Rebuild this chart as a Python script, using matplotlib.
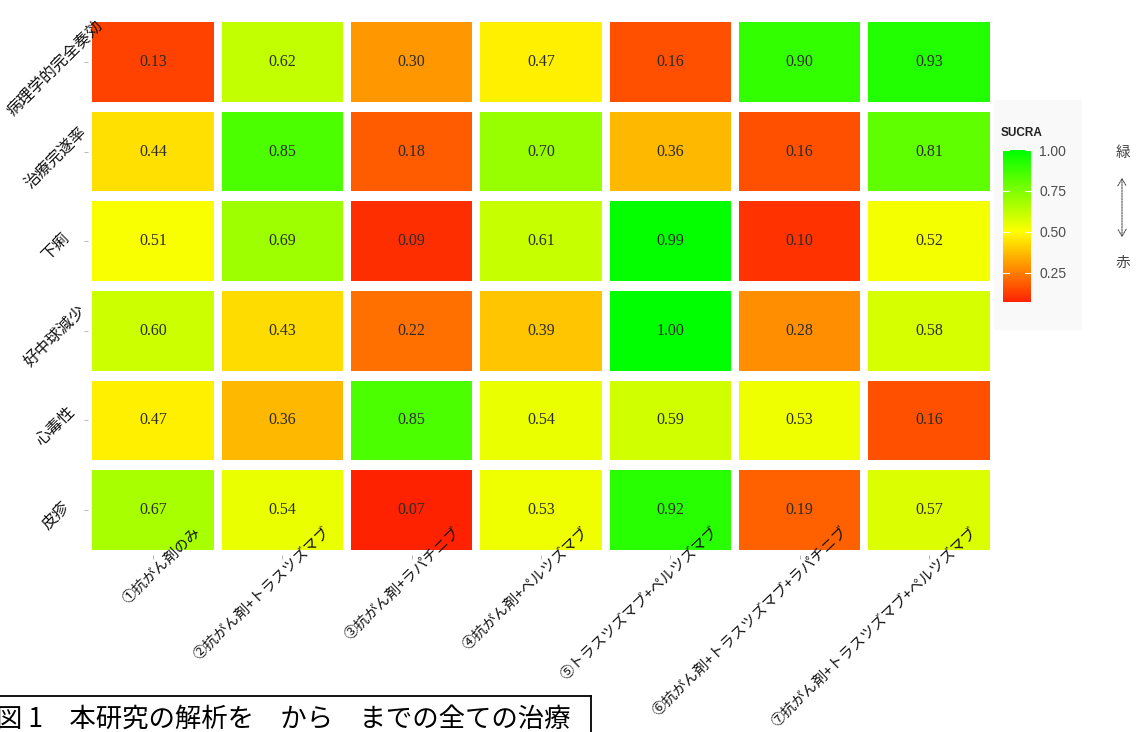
import matplotlib
matplotlib.use("Agg")
import matplotlib.pyplot as plt
import matplotlib.transforms as mtransforms
from matplotlib.colors import LinearSegmentedColormap
from matplotlib.patches import Rectangle, FancyArrowPatch
from matplotlib.lines import Line2D
import numpy as np

JP = ['Noto Sans CJK JP', 'DejaVu Sans']

treatments = ['①抗がん剤のみ', '②抗がん剤+トラスツズマブ', '③抗がん剤+ラパチニブ',
              '④抗がん剤+ペルツズマブ', '⑤トラスツズマブ+ペルツズマブ',
              '⑥抗がん剤+トラスツズマブ+ラパチニブ', '⑦抗がん剤+トラスツズマブ+ペルツズマブ']
outcomes = ['病理学的完全奏効', '治療完遂率', '下痢', '好中球減少', '心毒性', '皮疹']

sucra_pcr = [0.13, 0.62, 0.30, 0.47, 0.16, 0.90, 0.93]
sucra_completion = [0.44, 0.85, 0.18, 0.70, 0.36, 0.16, 0.81]
sucra_diarrhea = [0.51, 0.69, 0.09, 0.61, 0.99, 0.10, 0.52]
sucra_neutropenia = [0.60, 0.43, 0.22, 0.39, 1.00, 0.28, 0.58]
sucra_cardiac = [0.47, 0.36, 0.85, 0.54, 0.59, 0.53, 0.16]
sucra_rash = [0.67, 0.54, 0.07, 0.53, 0.92, 0.19, 0.57]

sucra = np.array([sucra_pcr, sucra_completion, sucra_diarrhea,
                  sucra_neutropenia, sucra_cardiac, sucra_rash])

# red (0) -> yellow (0.5) -> green (1)
cmap = LinearSegmentedColormap.from_list('ryg', ['#ff0000', '#ffff00', '#00ff00'])

fig = plt.figure(figsize=(11.37, 7.32), dpi=100)
W, H = 1137, 732
ax = fig.add_axes([88.4 / W, 1 - 554.8 / H, 905.2 / W, 537.6 / H])

nr, nc = sucra.shape
for i in range(nr):
    for j in range(nc):
        v = sucra[i, j]
        y = nr - 1 - i
        ax.add_patch(Rectangle((j - 0.47, y - 0.445), 0.94, 0.89,
                               facecolor=cmap(v), edgecolor='none', zorder=1))
        ax.text(j, y, f'{v:.2f}', ha='center', va='center', fontsize=11.5,
                family='Liberation Serif', color='#2b2b2b', zorder=2)

ax.set_xlim(-0.5, nc - 0.5)
ax.set_ylim(-0.5, nr - 0.5)
for s in ax.spines.values():
    s.set_visible(False)
ax.set_xticks(range(nc))
ax.set_yticks(range(nr))
ax.set_xticklabels([])
ax.set_yticklabels([])
ax.tick_params(length=3, width=0.6, color='#aaaaaa')

# treatment labels: right end pinned just right of each tick
xoff = mtransforms.ScaledTranslation(46 / 100, 25 / 100, fig.dpi_scale_trans)
for j, lab in enumerate(treatments):
    ax.text(j, 0, lab, transform=ax.get_xaxis_transform() + xoff,
            rotation=44, rotation_mode='anchor', ha='right', va='center',
            fontsize=10.5, family=JP, color='#111111', zorder=3)

yoff = mtransforms.ScaledTranslation(-33 / 100, -6 / 100, fig.dpi_scale_trans)
for i, lab in enumerate(outcomes):
    ax.text(0, nr - 1 - i, lab, transform=ax.get_yaxis_transform() + yoff,
            rotation=45, rotation_mode='anchor', ha='center', va='center',
            fontsize=11.5, family=JP, color='#111111')

# legend panel
fig.patches.append(Rectangle((994 / W, 1 - 330 / H), 88 / W, 230 / H,
                             transform=fig.transFigure, facecolor='#f9f9f9',
                             edgecolor='none', zorder=-5))
vmin, vmax = sucra.min(), sucra.max()
cax = fig.add_axes([1003 / W, 1 - 302 / H, 28 / W, 152 / H])
cax.set_zorder(2)
grad = np.linspace(vmin, vmax, 256).reshape(-1, 1)
cax.imshow(grad, cmap=cmap, vmin=0, vmax=1, origin='lower', aspect='auto',
           extent=[0, 1, vmin, vmax])
for s in cax.spines.values():
    s.set_visible(False)
cb_ticks = [0.25, 0.50, 0.75, 1.00]
cax.set_xticks([])
cax.set_yticks(cb_ticks)
cax.set_yticklabels([f'{t:.2f}' for t in cb_ticks], family='Liberation Sans',
                    fontsize=10, color='#4d4d4d')
cax.yaxis.tick_right()
cax.tick_params(axis='y', length=0, pad=6)
for t in cb_ticks:
    cax.plot([0, 0.2], [t, t], color='white', lw=0.8)
    cax.plot([0.8, 1], [t, t], color='white', lw=0.8)
cax.set_xlim(0, 1)
cax.set_ylim(vmin, vmax)
fig.text(1001 / W, 1 - 133 / H, 'SUCRA', family='Liberation Sans',
         fontweight='bold', fontsize=8.5, color='#222222', va='center', ha='left')

# green / red direction hint
fig.text(1123 / W, 1 - 153 / H, '緑', family=JP, fontsize=10.5,
         color='#444444', ha='center', va='center')
fig.text(1123 / W, 1 - 263 / H, '赤', family=JP, fontsize=10.5,
         color='#444444', ha='center', va='center')
fig.patches.append(FancyArrowPatch(
    (1122 / W, 1 - 240 / H), (1122 / W, 1 - 175 / H), transform=fig.transFigure,
    arrowstyle='<->,head_length=5,head_width=3', color='#555555', lw=0.8,
    linestyle=(0, (1.5, 1))))

# caption box
fig.lines.append(Line2D([0, 591 / W], [1 - 696 / H, 1 - 696 / H],
                        transform=fig.transFigure, color='black', lw=1.3))
fig.lines.append(Line2D([591 / W, 591 / W], [1 - 696 / H, 0],
                        transform=fig.transFigure, color='black', lw=1.3))
fig.text(-4 / W, 1 - 706 / H, '図 1　本研究の解析を　から　までの全ての治療',
         family=JP, fontsize=19, color='black', ha='left', va='top')

fig.savefig('out.png', dpi=100)
